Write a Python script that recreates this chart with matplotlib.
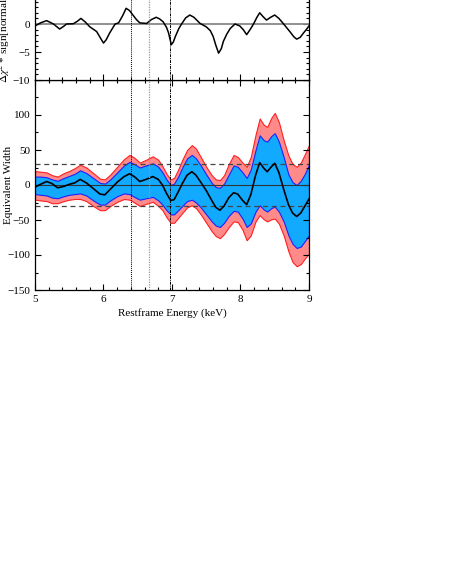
import matplotlib
matplotlib.use("Agg")
import matplotlib.pyplot as plt
from matplotlib.ticker import MultipleLocator, FuncFormatter

plt.rcParams['font.family'] = ['Liberation Serif', 'DejaVu Serif']
plt.rcParams['mathtext.fontset'] = 'stix'
plt.rcParams['font.size'] = 8

# ---- top panel: delta chi^2 * sign[normalization]
top_energy = [5.0, 5.08, 5.17, 5.27, 5.36, 5.42, 5.46, 5.56, 5.62, 5.67, 5.73, 5.8, 5.9,
              5.96, 6.0, 6.04, 6.09, 6.17, 6.22, 6.28, 6.33, 6.38, 6.43, 6.48, 6.53,
              6.63, 6.7, 6.77, 6.82, 6.87, 6.92, 6.95, 6.99, 7.02, 7.05, 7.1, 7.14,
              7.2, 7.26, 7.32, 7.41, 7.5, 7.56, 7.6, 7.64, 7.68, 7.72, 7.75, 7.8,
              7.85, 7.92, 7.99, 8.04, 8.09, 8.14, 8.19, 8.24, 8.28, 8.33, 8.38, 8.44,
              8.5, 8.56, 8.63, 8.72, 8.78, 8.82, 8.87, 8.92, 8.96, 9.0]
top_dchi = [-0.35, 0.2, 0.6, 0.0, -0.9, -0.4, 0.0, 0.05, 0.5, 1.0, 0.4, -0.5, -1.35,
            -2.6, -3.4, -2.8, -1.6, 0.0, 0.2, 1.5, 2.8, 2.4, 1.6, 0.8, 0.2,
            0.1, 0.8, 1.2, 0.9, 0.4, -0.6, -1.6, -3.7, -3.2, -2.2, -0.8, 0.0,
            1.1, 1.6, 1.2, 0.1, -0.5, -1.2, -2.2, -3.8, -5.2, -4.4, -3.1, -1.8,
            -0.8, 0.0, -0.35, -1.0, -1.9, -1.0, 0.0, 1.2, 2.0, 1.3, 0.7, 1.2,
            1.6, 1.0, 0.0, -1.35, -2.3, -2.7, -2.4, -1.6, -1.0, -0.35]

# ---- bottom panel: equivalent width and confidence bands
energy = [5.0, 5.08, 5.17, 5.25, 5.33, 5.42, 5.5, 5.58, 5.66, 5.75, 5.85, 5.95, 6.02,
          6.1, 6.2, 6.3, 6.38, 6.45, 6.53, 6.62, 6.72, 6.8, 6.86, 6.92, 6.98, 7.03,
          7.09, 7.15, 7.22, 7.29, 7.35, 7.42, 7.5, 7.58, 7.64, 7.7, 7.76, 7.83, 7.9,
          7.96, 8.03, 8.09, 8.15, 8.22, 8.28, 8.34, 8.39, 8.45, 8.5, 8.56, 8.63, 8.7,
          8.76, 8.82, 8.88, 8.94, 9.0]
ew_best = [-3, 1, 5, 2, -4, -2, 1, 3, 8, 3, -5, -13, -14,
           -6, 4, 12, 16, 12, 5, 8, 12, 8, 0, -12, -22, -21,
           -10, 2, 14, 19, 14, 4, -8, -22, -32, -36, -30, -18, -11,
           -13, -22, -28, -14, 14, 32, 24, 19, 26, 31, 18, -6, -28,
           -40, -45, -40, -30, -20]
inner_hi = [12, 12, 11, 8, 6, 10, 13, 16, 21, 17, 10, 3, 2,
            8, 18, 28, 33, 30, 25, 28, 31, 26, 18, 8, 0, 2,
            12, 25, 38, 43, 38, 28, 15, 3, -3, -4, 2, 15, 28,
            26, 18, 10, 22, 50, 71, 64, 62, 70, 74, 62, 40, 15,
            4, 0, 6, 16, 29]
inner_lo = [-13, -14, -15, -18, -19, -16, -14, -13, -12, -15, -22, -28, -28,
            -22, -16, -12, -13, -17, -21, -19, -17, -22, -28, -36, -42, -42,
            -36, -30, -23, -21, -25, -32, -42, -52, -58, -60, -54, -44, -37,
            -38, -48, -60, -55, -38, -29, -35, -38, -33, -31, -38, -52, -72,
            -84, -90, -88, -80, -72]
outer_hi = [20, 19, 18, 14, 12, 17, 20, 24, 29, 25, 17, 9, 8,
            15, 26, 37, 43, 39, 32, 36, 41, 36, 27, 16, 8, 10,
            22, 36, 50, 57, 52, 40, 26, 14, 8, 7, 14, 30, 43,
            40, 32, 26, 40, 72, 95, 86, 83, 96, 103, 90, 64, 42,
            30, 26, 32, 44, 57]
outer_lo = [-21, -22, -23, -26, -26, -23, -21, -20, -20, -23, -30, -36, -36,
            -30, -24, -20, -21, -25, -30, -27, -24, -30, -36, -46, -54, -54,
            -47, -40, -32, -29, -33, -42, -54, -66, -73, -76, -70, -60, -52,
            -53, -64, -79, -72, -52, -43, -49, -52, -49, -48, -55, -72, -95,
            -110, -116, -113, -105, -98]

line_energies = [6.4, 6.67, 6.97]
ew_limit = 30

fig = plt.figure(figsize=(4.5, 5.83), dpi=100)
W, H = 450.0, 583.0
left, right = 35 / W, 309 / W
ax_bot = fig.add_axes([left, 1 - 290 / H, right - left, (290 - 80) / H])
ax_top = fig.add_axes([left, 1 - 80 / H, right - left, (80 + 32) / H], sharex=ax_bot)


def fmt(v, pos):
    return f'{v:g}'.replace('-', '\u2212')


for ax in (ax_top, ax_bot):
    ax.set_xlim(5, 9)
    ax.xaxis.set_major_locator(MultipleLocator(1))
    ax.xaxis.set_minor_locator(MultipleLocator(0.2))
    ax.tick_params(which='both', direction='in', top=True, right=True, width=0.8)
    ax.tick_params(which='major', length=4)
    ax.tick_params(which='minor', length=2.2)
    for s in ax.spines.values():
        s.set_linewidth(0.9)
    ax.axvline(line_energies[0], color='black', ls=(0, (1, 1)), lw=0.7, zorder=4)
    ax.axvline(line_energies[1], color='#999999', ls=(0, (1, 1)), lw=0.9, zorder=4)
    ax.axvline(line_energies[2], color='black', ls=(0, (3, 1, 1, 1)), lw=0.7, zorder=4)

# top panel
ax_top.axhline(0, color='#888888', lw=1.3, zorder=2)
ax_top.plot(top_energy, top_dchi, color='black', lw=1.1, zorder=3,
            solid_joinstyle='round')
ax_top.set_ylim(-10, 10)
ax_top.yaxis.set_major_locator(MultipleLocator(5))
ax_top.yaxis.set_minor_locator(MultipleLocator(1))
ax_top.yaxis.set_major_formatter(
    FuncFormatter(lambda v, pos: '' if v > 0 else fmt(v, pos)))
ax_top.tick_params(labelbottom=False)
ax_top.set_ylabel(r'$\Delta\chi^2$ * sign[normalization]')
ax_top.yaxis.set_label_coords(-0.08, 0.5)

# bottom panel
ax_bot.fill_between(energy, outer_lo, outer_hi, facecolor='#ff8a8a',
                    edgecolor='#ff2020', lw=0.8, zorder=1)
ax_bot.fill_between(energy, inner_lo, inner_hi, facecolor='#12aaff',
                    edgecolor='#2020ff', lw=0.8, zorder=1.5)
ax_bot.axhline(0, color='#333333', lw=0.8, zorder=2)
ax_bot.axhline(ew_limit, color='#444444', ls=(0, (4, 3)), lw=0.9, zorder=2)
ax_bot.axhline(-ew_limit, color='#444444', ls=(0, (4, 3)), lw=0.9, zorder=2)
ax_bot.plot(energy, ew_best, color='black', lw=1.2, zorder=3,
            solid_joinstyle='round')
ax_bot.set_ylim(-150, 150)
ax_bot.yaxis.set_major_locator(MultipleLocator(50))
ax_bot.yaxis.set_minor_locator(MultipleLocator(25))
ax_bot.yaxis.set_major_formatter(
    FuncFormatter(lambda v, pos: '' if v >= 150 else fmt(v, pos)))
ax_bot.set_xlabel('Restframe Energy (keV)', labelpad=3)
ax_bot.set_ylabel('Equivalent Width')
ax_bot.yaxis.set_label_coords(-0.08, 0.5)

fig.savefig('out.png', dpi=100)
